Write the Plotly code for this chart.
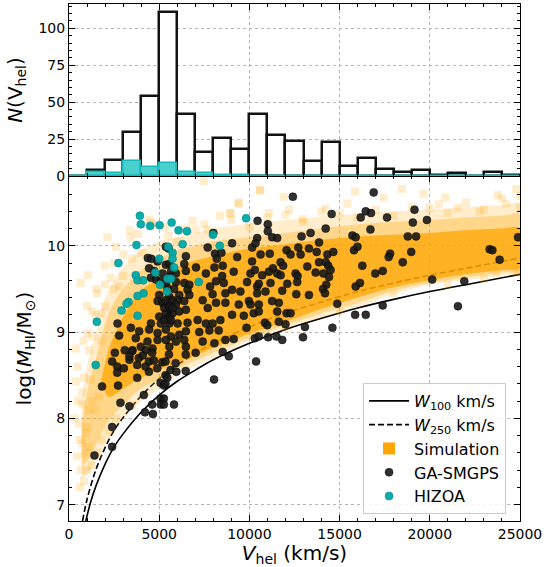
import plotly.graph_objects as go

# ---------------- histogram data (counts per 1000 km/s bin) ----------------
bin_left = [0, 1000, 2000, 3000, 4000, 5000, 6000, 7000, 8000, 9000, 10000, 11000, 12000,
            13000, 14000, 15000, 16000, 17000, 18000, 19000, 20000, 21000, 22000, 23000, 24000]
hist_all = [0, 4, 11, 30, 54, 111, 42, 16, 26, 18, 42, 28, 24, 10, 23, 7, 12, 5, 3, 4, 1, 2, 0, 3, 1]
hist_hizoa = [0, 3, 2, 10, 6, 9, 3, 2, 1, 1, 0, 0, 0, 0, 0, 0, 0, 0, 0, 0, 0, 0, 0, 0, 0]

# ---------------- detection-limit curves ----------------
w100_v = [930, 1200, 1500, 2000, 2500, 3000, 4000, 5000, 6000, 7000, 8000, 10000, 12000,
          14000, 16000, 18000, 20000, 22500, 25000]
w100_logm = [6.81, 7.03, 7.22, 7.47, 7.67, 7.82, 8.07, 8.27, 8.43, 8.56, 8.68, 8.87, 9.03,
             9.16, 9.28, 9.38, 9.47, 9.57, 9.67]
w250_v = [750, 1000, 1500, 2000, 2500, 3000, 4000, 5000, 6000, 7000, 8000, 10000, 12000,
          14000, 16000, 18000, 20000, 22500, 25000]
w250_logm = [6.81, 7.06, 7.41, 7.66, 7.86, 8.01, 8.26, 8.46, 8.62, 8.75, 8.87, 9.06, 9.22,
             9.35, 9.47, 9.57, 9.66, 9.76, 9.86]

# ---------------- simulation density envelopes ----------------
band_v = [700, 1000, 1500, 2000, 2500, 3000, 4000, 5000, 6000, 7000, 8000, 9000, 10000,
          12000, 14000, 16000, 18000, 20000, 22000, 24000, 25000]
outer_lo = [7.30, 7.35, 7.50, 7.70, 7.85, 8.00, 8.20, 8.35, 8.50, 8.60, 8.70, 8.80, 8.90,
            9.04, 9.17, 9.29, 9.44, 9.55, 9.60, 9.66, 9.68]
outer_hi = [8.20, 8.60, 9.00, 9.40, 9.60, 9.75, 9.95, 10.05, 10.10, 10.15, 10.20, 10.23, 10.26,
            10.30, 10.34, 10.37, 10.40, 10.42, 10.45, 10.47, 10.48]
mid_lo = [7.45, 7.50, 7.70, 7.90, 8.05, 8.15, 8.35, 8.45, 8.57, 8.67, 8.76, 8.85, 8.93,
          9.08, 9.22, 9.34, 9.48, 9.57, 9.63, 9.69, 9.72]
mid_hi = [7.90, 8.30, 8.70, 9.10, 9.35, 9.50, 9.72, 9.85, 9.95, 10.00, 10.05, 10.08, 10.10,
          10.15, 10.20, 10.25, 10.28, 10.30, 10.33, 10.35, 10.36]
core_v = [1800, 2200, 2700, 3200, 4000, 5000, 6000, 7000, 8000, 9000, 10000, 12000, 14000,
          16000, 18000, 20000, 22000, 24000, 25000]
core_lo = [8.40, 8.25, 8.30, 8.37, 8.47, 8.56, 8.65, 8.73, 8.82, 8.90, 8.98, 9.12, 9.27,
           9.40, 9.52, 9.60, 9.67, 9.72, 9.75]
core_hi = [8.45, 8.80, 9.05, 9.25, 9.48, 9.62, 9.75, 9.83, 9.88, 9.93, 9.97, 10.02, 10.07,
           10.11, 10.13, 10.15, 10.18, 10.20, 10.20]

# ---------------- sparse simulation squares (V_hel, logM) ----------------
sim_points = [
    (7460, 10.75), (4440, 10.30), (4590, 10.25), (5370, 10.22), (6850, 10.29), (7030, 10.19),
    (7690, 10.19), (2130, 10.10), (3420, 10.10), (2590, 9.99), (1980, 9.77), (1050, 9.66),
    (650, 9.57), (1570, 9.45), (2310, 9.63), (2780, 9.53), (1300, 9.24), (1760, 9.22),
    (1020, 8.99), (370, 8.81), (10600, 10.64), (9390, 10.49), (8370, 10.35), (8930, 10.38),
    (10580, 10.65), (9410, 10.50), (8950, 10.38), (11910, 10.57), (12190, 10.42), (14230, 10.43),
    (15430, 10.49), (15860, 10.63), (12930, 10.31), (11080, 10.38), (18450, 10.66), (19650, 10.60),
    (20870, 10.56), (17430, 10.56), (23780, 10.59), (24800, 10.66), (21560, 10.44), (22760, 10.40),
    (19980, 10.44), (24240, 10.49), (23690, 9.68), (24800, 9.72), (460, 8.60), (830, 8.47),
    (370, 8.43), (740, 8.16), (1110, 8.10), (560, 7.94), (930, 7.83), (740, 7.71), (460, 7.56),
    (650, 7.40), (830, 7.27), (1110, 7.67), (1480, 8.10), (1670, 8.25), (1110, 8.79),
    (1520, 9.50), (3820, 10.14), (4580, 10.27), (3370, 10.18), (2000, 9.30), (2500, 9.50),
    (3000, 9.65), (3500, 9.85), (4000, 9.92), (6000, 10.05), (8000, 10.15), (10000, 10.22),
    (13000, 10.28), (16000, 10.33), (18000, 10.35), (21000, 10.38), (23000, 10.42), (25000, 10.45),
    (1500, 8.60), (1300, 8.20), (900, 7.60), (1600, 7.60), (2200, 7.85), (1800, 8.90),
    (2700, 8.90), (1300, 8.95), (700, 8.30), (1000, 7.90), (600, 7.75), (1250, 7.45),
    (5500, 10.12), (6500, 10.20), (7500, 10.25), (9000, 10.30), (11000, 10.33), (12000, 10.36),
    (14000, 10.40), (15000, 10.38), (17000, 10.42), (19000, 10.45), (20500, 10.48), (22000, 10.50),
    (24000, 10.55), (25000, 10.58), (3000, 9.90), (2500, 9.80), (2000, 9.55), (1500, 9.20),
    (1000, 9.30), (800, 8.90), (500, 8.20), (300, 8.00), (1200, 8.45), (600, 7.20),
    (1000, 7.40), (1800, 7.75), (2600, 8.00), (3500, 8.15), (12000, 9.05), (15000, 9.25),
    (18000, 9.45), (21000, 9.55), (23000, 9.62), (25000, 9.70),
]

# ---------------- GA-SMGPS galaxies (V_hel, logM) ----------------
ga_smgps = [
    (8000, 10.15), (7690, 9.98), (5370, 9.99), (5520, 9.97), (4370, 9.86), (4560, 9.85),
    (4910, 9.82), (5370, 9.78), (5560, 9.79), (6480, 9.88), (6390, 9.79), (8090, 9.91),
    (8190, 9.85), (7040, 9.75), (8060, 9.75), (7590, 9.68), (4440, 9.74), (4720, 9.71),
    (5190, 9.68), (5650, 9.70), (5930, 9.68), (6480, 9.71), (5560, 9.64), (4540, 9.63),
    (4820, 9.61), (5090, 9.59), (5370, 9.57), (5930, 9.58), (6390, 9.57), (6670, 9.55),
    (5460, 9.51), (5830, 9.50), (6570, 9.49), (7820, 9.53), (8150, 9.59), (6670, 9.43),
    (6110, 9.43), (5000, 9.43), (5560, 9.41), (5740, 9.37), (6020, 9.37), (7960, 9.44),
    (4910, 9.36), (5190, 9.34), (5460, 9.32), (5930, 9.32), (6390, 9.36), (7410, 9.37),
    (7690, 9.28), (8150, 9.34), (5560, 9.26), (5370, 9.22), (5740, 9.22), (6110, 9.24),
    (6480, 9.26), (5560, 9.18), (5000, 9.18), (4540, 9.10), (5090, 9.10), (5560, 9.10),
    (6020, 9.10), (6570, 9.11), (7130, 9.14), (7590, 9.10), (7960, 9.10), (2690, 9.10),
    (3430, 9.05), (3890, 9.01), (4440, 9.03), (4910, 8.99), (5370, 9.03), (5650, 8.95),
    (6110, 8.97), (6480, 9.01), (7220, 9.00), (7780, 9.02), (2780, 8.96), (3700, 8.93),
    (4350, 8.89), (4910, 8.91), (5370, 8.91), (5930, 8.89), (6390, 8.91), (7410, 8.89),
    (8060, 8.87), (3980, 8.83), (4630, 8.81), (5560, 8.83), (6480, 8.83), (3520, 8.79),
    (4260, 8.79), (5280, 9.28), (5560, 9.30), (5460, 9.16), (5650, 9.14), (5280, 9.14),
    (5740, 9.28), (5370, 9.37),
    (12410, 10.57), (14560, 10.37), (10450, 10.29), (11020, 10.25), (16170, 10.33), (16450, 10.40),
    (9040, 10.03), (10150, 9.98), (10430, 10.09), (10340, 10.03), (11020, 10.17), (11260, 10.10),
    (11540, 10.09), (12890, 10.11), (13390, 10.15), (14230, 10.20), (15710, 10.12), (15890, 10.10),
    (13860, 10.04), (8450, 9.92), (9320, 9.87), (10620, 9.90), (11130, 9.91), (12060, 9.95),
    (12280, 9.90), (12710, 9.98), (12840, 9.90), (13300, 9.97), (13730, 9.93), (14320, 9.90),
    (14650, 9.93), (15800, 9.95), (15990, 9.99), (8520, 9.77), (10150, 9.82), (11730, 9.81),
    (11870, 9.77), (11300, 9.74), (13210, 9.76), (13860, 9.81), (14230, 9.81), (14370, 9.77),
    (14500, 9.72), (16260, 9.77), (8490, 9.65), (9130, 9.70), (9870, 9.58), (10060, 9.68),
    (10300, 9.72), (10710, 9.66), (11080, 9.70), (11540, 9.68), (11730, 9.66), (12560, 9.68),
    (12670, 9.65), (13670, 9.69), (14100, 9.68), (14260, 9.55), (14410, 9.64), (8580, 9.57),
    (10430, 9.53), (10520, 9.56), (11170, 9.57), (12100, 9.56), (12650, 9.58), (14080, 9.50),
    (14190, 9.45), (15890, 9.53), (16130, 9.57), (8670, 9.45), (9040, 9.49), (9500, 9.47),
    (10430, 9.45), (10890, 9.47), (11820, 9.48), (12600, 9.44), (13300, 9.43), (8670, 9.34),
    (9410, 9.32), (9970, 9.36), (10060, 9.32), (10520, 9.32), (11260, 9.36), (11630, 9.34),
    (9040, 9.20), (9690, 9.19), (10240, 9.22), (10520, 9.24), (11540, 9.24), (12060, 9.22),
    (12280, 9.22), (10860, 9.11), (10990, 9.08), (11630, 9.12), (8300, 9.02), (8670, 8.91),
    (9130, 8.92), (10300, 8.93), (10520, 8.95), (12970, 8.94), (14600, 9.05), (15860, 9.20),
    (16450, 9.20), (11820, 8.91), (8390, 9.14),
    (8860, 8.72), (8520, 8.77), (10370, 8.66), (11040, 8.94), (11500, 8.95), (13080, 9.06),
    (14870, 9.33), (9840, 9.05), (12000, 9.09),
    (16890, 10.62), (16740, 10.38), (17630, 10.33), (19150, 10.42), (19060, 10.27), (19840, 10.30),
    (16710, 10.19), (18780, 10.11), (19240, 10.11), (18970, 9.93), (17800, 9.91), (17720, 9.87),
    (18500, 9.81), (16980, 9.68), (17390, 9.71), (23320, 9.96), (23470, 9.95), (23870, 9.84),
    (24890, 10.10), (20130, 9.61), (21910, 9.59), (17390, 9.31), (21560, 9.30),
    (3090, 8.79), (3500, 8.78), (2390, 8.66), (2670, 8.60), (2670, 8.53), (3040, 8.58),
    (3350, 8.68), (3350, 8.72), (3780, 8.62), (3870, 8.70), (3780, 8.47), (4090, 8.73),
    (4430, 8.66), (4710, 8.67), (4890, 8.58), (5170, 8.65), (5350, 8.66), (5540, 8.74),
    (5910, 8.64), (5630, 8.56), (5350, 8.50), (5450, 8.47), (4430, 8.54), (4240, 8.60),
    (4610, 8.76), (5080, 8.41), (5260, 8.38), (5350, 8.40), (5950, 8.54), (6470, 8.55),
    (7020, 8.76), (6470, 8.74), (8040, 8.45), (1830, 8.37), (2720, 8.38), (4150, 8.27),
    (2850, 8.18), (3350, 8.14), (4210, 8.07), (4610, 8.16), (4650, 8.05), (5080, 8.23),
    (5260, 8.23), (5080, 8.16), (5260, 8.16), (5820, 8.16), (2390, 7.90), (2390, 7.67),
    (1410, 7.57), (2540, 8.76),
]

# ---------------- HIZOA galaxies (V_hel, logM) ----------------
hizoa = [
    (3930, 10.35), (3980, 10.25), (4500, 10.23), (5020, 10.24), (5690, 10.27), (6070, 10.18),
    (6540, 10.17), (7980, 10.13), (3740, 10.01), (5500, 9.99), (6300, 10.02), (5740, 9.92),
    (5000, 9.85), (5740, 9.85), (5830, 9.75), (2740, 9.80), (4780, 9.69), (5460, 9.62),
    (5650, 9.62), (3700, 9.66), (3800, 9.60), (4110, 9.60), (5040, 9.55), (7190, 9.58),
    (4130, 9.45), (3800, 9.42), (5430, 9.47), (3300, 9.35), (3190, 9.33), (2910, 9.25),
    (3800, 9.19), (1540, 9.12), (9820, 10.32), (8360, 10.00), (1480, 8.62),
]

ORANGE = "255,165,0"
FONT = "DejaVu Sans"

fig = go.Figure()

# ---- top panel: histogram ----
fig.add_trace(go.Bar(
    x=bin_left, y=hist_all, width=1000, offset=0, xaxis="x2", yaxis="y2",
    marker=dict(color="white", line=dict(color="#111111", width=2.5)),
    showlegend=False, hoverinfo="skip"))
fig.add_trace(go.Bar(
    x=bin_left, y=hist_hizoa, width=1000, offset=0, xaxis="x2", yaxis="y2",
    marker=dict(color="rgba(64,204,204,0.95)", line=dict(color="rgb(20,185,185)", width=1.5)),
    showlegend=False, hoverinfo="skip"))

# ---- main panel: detection-limit curves (drawn below the simulation) ----
fig.add_trace(go.Scatter(
    x=w100_v, y=w100_logm, mode="lines", line=dict(color="black", width=1.6, shape="spline"),
    name="<i>W</i><sub>100</sub> km/s", legendrank=1))
fig.add_trace(go.Scatter(
    x=w250_v, y=w250_logm, mode="lines",
    line=dict(color="black", width=1.6, dash="6px,3px", shape="spline"),
    name="<i>W</i><sub>250</sub> km/s", legendrank=2))

# ---- simulation density (envelopes) ----
def band(xs, lo, hi, alpha):
    fig.add_trace(go.Scatter(
        x=xs + xs[::-1], y=lo + hi[::-1], mode="lines", fill="toself",
        fillcolor=f"rgba({ORANGE},{alpha})", line=dict(width=0, shape="spline"),
        showlegend=False, hoverinfo="skip"))

band(band_v, outer_lo, outer_hi, 0.2)
band(band_v, mid_lo, mid_hi, 0.32)
band(core_v, core_lo, core_hi, 0.75)

fig.add_trace(go.Scatter(
    x=[p[0] for p in sim_points], y=[p[1] for p in sim_points], mode="markers",
    marker=dict(symbol="square", size=8, color=f"rgba({ORANGE},0.2)", line=dict(width=0)),
    showlegend=False, hoverinfo="skip"))
# legend entry for the simulation
fig.add_trace(go.Scatter(
    x=[None], y=[None], mode="markers", name="Simulation", legendrank=3,
    marker=dict(symbol="square", size=12, color=f"rgb({ORANGE})")))

fig.add_trace(go.Scatter(
    x=[p[0] for p in ga_smgps], y=[p[1] for p in ga_smgps], mode="markers", name="GA-SMGPS",
    legendrank=4,
    marker=dict(symbol="circle", size=8, color="rgba(25,25,25,0.9)",
                line=dict(color="rgba(0,0,0,0.9)", width=0.5))))
fig.add_trace(go.Scatter(
    x=[p[0] for p in hizoa], y=[p[1] for p in hizoa], mode="markers", name="HIZOA",
    legendrank=5,
    marker=dict(symbol="circle", size=8, color="rgba(0,168,168,0.95)",
                line=dict(color="rgb(0,130,130)", width=0.5))))

tickfont = dict(family=FONT, size=14, color="black")
common = dict(showline=True, linecolor="black", linewidth=1, mirror="ticks",
              ticks="inside", ticklen=6, tickwidth=1, tickcolor="black",
              showgrid=True, gridcolor="#b5b5b5", griddash="dot", gridwidth=1,
              zeroline=False, tickfont=tickfont)

fig.update_layout(
    width=556, height=567,
    margin=dict(l=69, r=36, t=4, b=46),
    paper_bgcolor="white", plot_bgcolor="white",
    barmode="overlay", bargap=0,
    font=dict(family=FONT, color="black"),
    xaxis=dict(domain=[0, 1], anchor="y", range=[0, 25000], tickmode="array",
               tickvals=[0, 5000, 10000, 15000, 20000, 25000], tickformat="d",
               minor=dict(ticks="inside", ticklen=3, dtick=1000, tickcolor="black", showgrid=False),
               title=dict(text="<i>V</i><sub>hel</sub> (km/s)", font=dict(family=FONT, size=20),
                          standoff=4),
               **common),
    yaxis=dict(domain=[0, 0.6673], anchor="x", range=[6.81, 10.81], tickmode="array",
               tickvals=[7, 8, 9, 10],
               minor=dict(ticks="inside", ticklen=3, dtick=0.2, tickcolor="black", showgrid=False),
               title=dict(text="log(<i>M</i><sub>HI</sub>/M<sub>\u2299</sub>)",
                          font=dict(family=FONT, size=20), standoff=10),
               **common),
    xaxis2=dict(domain=[0, 1], anchor="y2", range=[0, 25000], tickmode="array",
                tickvals=[0, 5000, 10000, 15000, 20000, 25000], showticklabels=False,
                minor=dict(ticks="inside", ticklen=3, dtick=1000, tickcolor="black", showgrid=False),
                **common),
    yaxis2=dict(domain=[0.6673, 1], anchor="x2", range=[0, 116.5], tickmode="array",
                tickvals=[0, 25, 50, 75, 100],
                minor=dict(ticks="inside", ticklen=3, dtick=5, tickcolor="black", showgrid=False),
                title=dict(text="<i>N</i>(V<sub>hel</sub>)", font=dict(family=FONT, size=20),
                           standoff=10),
                **common),
    legend=dict(x=0.652, y=0.267, xanchor="left", yanchor="top",
                bgcolor="rgba(255,255,255,0.85)", bordercolor="#cccccc", borderwidth=1,
                font=dict(family=FONT, size=16, color="black"), traceorder="normal",
                itemwidth=40, tracegroupgap=0),
)

fig.write_html("out.html")
